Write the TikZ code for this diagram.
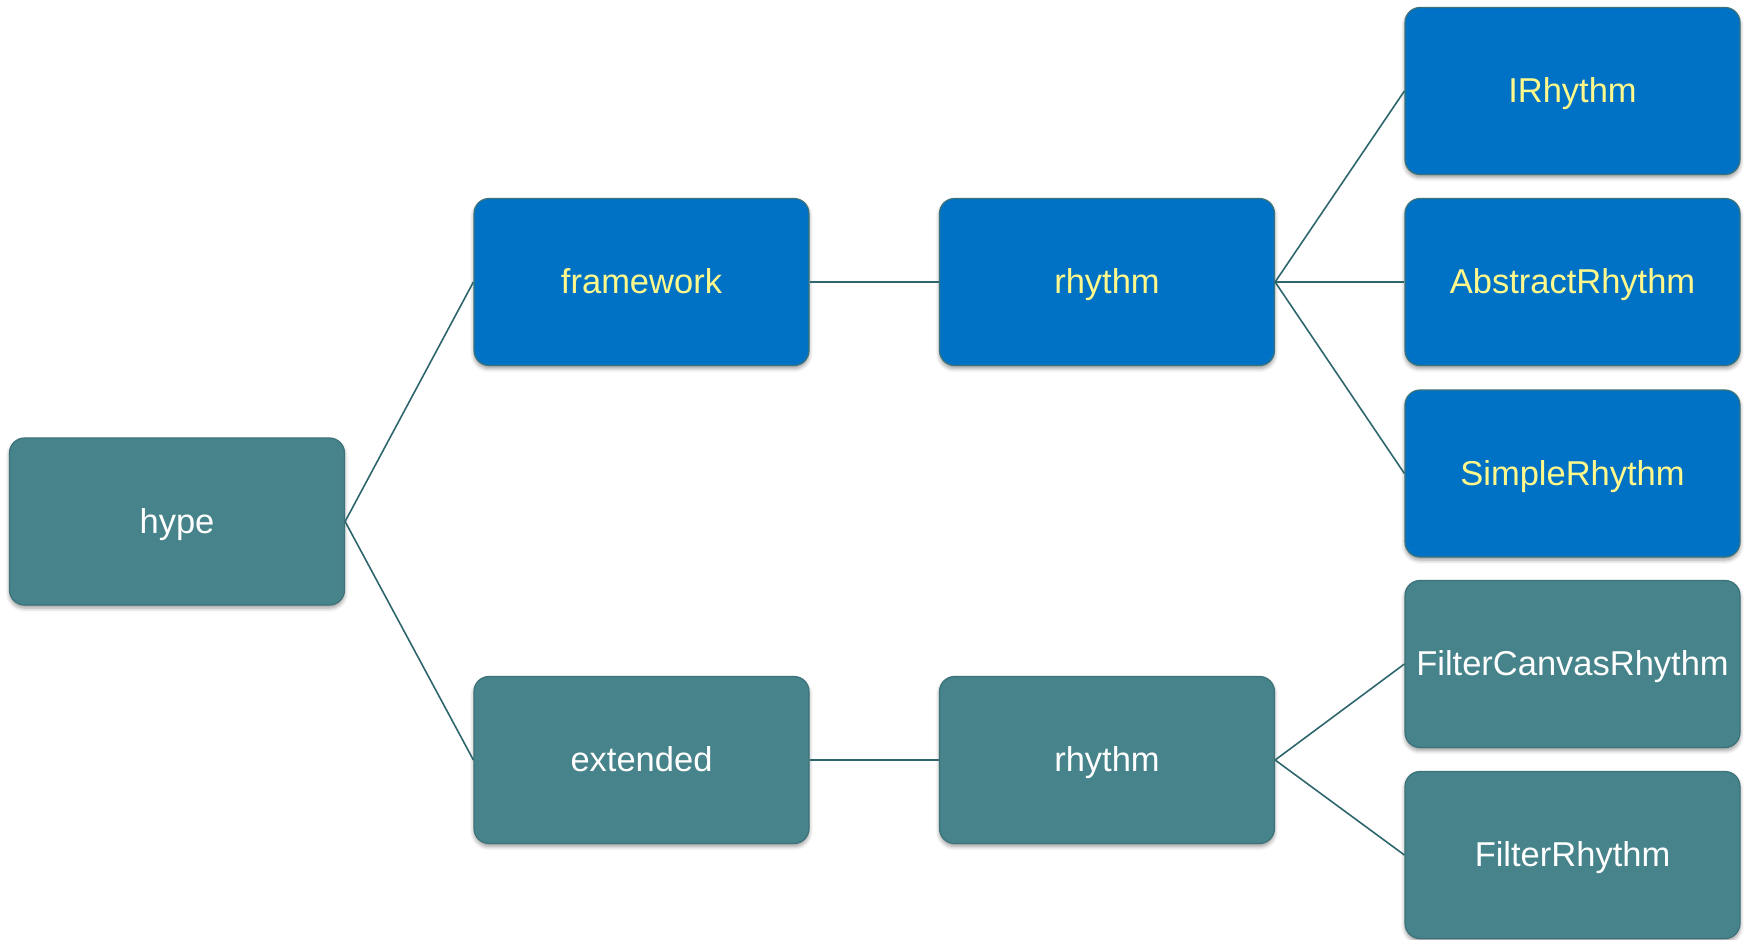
\documentclass[tikz,border=0pt]{standalone}
\usepackage{fontspec}
\setmainfont{Liberation Sans}
\usetikzlibrary{shadows.blur}
\definecolor{boxblue}{HTML}{0072C6}
\definecolor{boxteal}{HTML}{47838A}
\definecolor{edgeteal}{HTML}{3C7279}
\definecolor{linkteal}{HTML}{2E666D}
\definecolor{labelyellow}{HTML}{FFF98C}
\tikzset{
  box/.style={rectangle, rounded corners=15pt, minimum width=335pt, minimum height=167pt,
    draw=edgeteal, line width=1.2pt, font=\fontsize{34.5}{38}\selectfont,
    text height=31pt, text depth=8pt,
    blur shadow={shadow xshift=0pt, shadow yshift=-3pt, shadow blur radius=4pt, shadow opacity=40}},
  bluebox/.style={box, fill=boxblue, text=labelyellow},
  tealbox/.style={box, fill=boxteal, text=white},
  link/.style={draw=linkteal, line width=1.6pt}
}
\begin{document}
\begin{tikzpicture}[x=1pt, y=-1pt]
  \useasboundingbox (0,0) rectangle (1749,940);
  % root
  \node[tealbox] (hype) at (177,521.5) {hype};
  % framework branch
  \node[bluebox] (framework) at (641.5,282) {framework};
  \node[bluebox] (rhythmA) at (1107,282) {rhythm};
  \node[bluebox] (irhythm) at (1572.5,91) {IRhythm};
  \node[bluebox] (abstract) at (1572.5,282) {AbstractRhythm};
  \node[bluebox] (simple) at (1572.5,473.5) {SimpleRhythm};
  % extended branch
  \node[tealbox] (extended) at (641.5,760) {extended};
  \node[tealbox] (rhythmB) at (1107,760) {rhythm};
  \node[tealbox] (canvas) at (1572.5,664) {FilterCanvasRhythm};
  \node[tealbox] (filter) at (1572.5,855) {FilterRhythm};
  % connectors
  \draw[link] (hype.east) -- (framework.west);
  \draw[link] (hype.east) -- (extended.west);
  \draw[link] (framework.east) -- (rhythmA.west);
  \draw[link] (extended.east) -- (rhythmB.west);
  \draw[link] (rhythmA.east) -- (irhythm.west);
  \draw[link] (rhythmA.east) -- (abstract.west);
  \draw[link] (rhythmA.east) -- (simple.west);
  \draw[link] (rhythmB.east) -- (canvas.west);
  \draw[link] (rhythmB.east) -- (filter.west);
\end{tikzpicture}
\end{document}
